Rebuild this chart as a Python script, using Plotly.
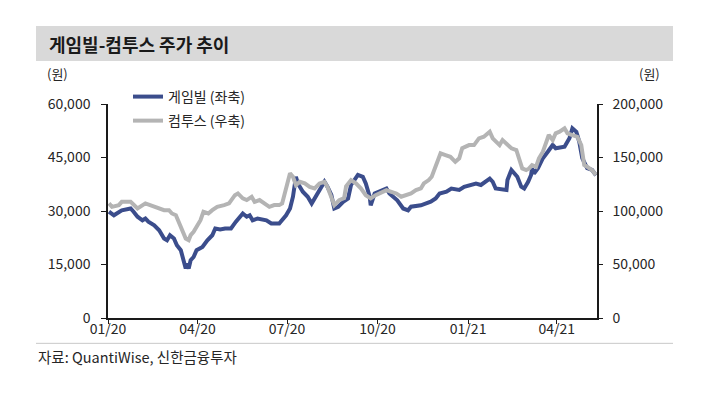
import plotly.graph_objects as go

# ---- data ----
gamevil_dates = [
    "2020-01-02", "2020-01-07", "2020-01-15", "2020-01-24", "2020-01-27", "2020-01-31",
    "2020-02-05", "2020-02-08", "2020-02-11", "2020-02-17", "2020-02-22", "2020-02-27",
    "2020-03-01", "2020-03-04", "2020-03-08", "2020-03-11", "2020-03-15", "2020-03-18",
    "2020-03-20", "2020-03-21", "2020-03-23", "2020-03-25", "2020-03-28", "2020-03-31",
    "2020-04-06", "2020-04-11", "2020-04-16", "2020-04-19", "2020-04-24", "2020-04-29",
    "2020-05-05", "2020-05-10", "2020-05-14", "2020-05-17", "2020-05-21", "2020-05-24",
    "2020-05-27", "2020-06-01", "2020-06-10", "2020-06-15", "2020-06-23", "2020-06-26",
    "2020-06-30", "2020-07-04", "2020-07-07", "2020-07-10", "2020-07-12", "2020-07-17",
    "2020-07-22", "2020-07-26", "2020-07-29", "2020-08-05", "2020-08-08", "2020-08-11",
    "2020-08-15", "2020-08-18", "2020-08-22", "2020-08-27", "2020-09-01", "2020-09-04",
    "2020-09-11", "2020-09-16", "2020-09-19", "2020-09-23", "2020-09-24", "2020-09-28",
    "2020-10-05", "2020-10-10", "2020-10-13", "2020-10-21", "2020-10-27", "2020-11-01",
    "2020-11-04", "2020-11-14", "2020-11-24", "2020-11-29", "2020-12-03", "2020-12-10",
    "2020-12-15", "2020-12-23", "2020-12-28", "2021-01-04", "2021-01-09", "2021-01-14",
    "2021-01-19", "2021-01-23", "2021-01-26", "2021-01-29", "2021-02-09", "2021-02-10",
    "2021-02-14", "2021-02-17", "2021-02-20", "2021-02-24", "2021-02-27", "2021-03-03",
    "2021-03-06", "2021-03-07", "2021-03-09", "2021-03-13", "2021-03-18", "2021-03-23",
    "2021-03-28", "2021-03-31", "2021-04-09", "2021-04-14", "2021-04-17", "2021-04-21",
    "2021-04-24", "2021-04-27", "2021-05-02", "2021-05-07", "2021-05-11",
]
gamevil_prices = [
    29800, 28800, 30200, 30700, 29800, 28400,
    27400, 27900, 27000, 26000, 24600, 22300,
    21800, 23200, 22300, 20400, 19000, 16200,
    13900, 15300, 13900, 16200, 17100, 19000,
    19900, 21800, 23200, 25100, 24800, 25100,
    25100, 27000, 28400, 29300, 28400, 28800,
    27400, 27900, 27400, 26500, 26500, 27400,
    28800, 30700, 34000, 39600, 37700, 35400,
    34000, 32100, 33500, 36800, 38200, 36800,
    34500, 30700, 31200, 32600, 33500, 37300,
    40100, 39600, 37700, 34000, 31600, 34900,
    35900, 36300, 34900, 33000, 30700, 30200,
    31200, 31600, 32600, 33500, 34900, 35400,
    36300, 35900, 36800, 37300, 37700, 37300,
    38200, 39100, 38200, 36300, 35900, 38700,
    41500, 40500, 39600, 36800, 36300, 38200,
    40100, 42000, 40500, 42000, 44800, 46600,
    48500, 47600, 48000, 50400, 53200, 52200,
    49400, 44800, 42000, 41500, 40000,
]

com2us_dates = [
    "2020-01-02", "2020-01-05", "2020-01-12", "2020-01-15", "2020-01-24", "2020-01-27",
    "2020-01-31", "2020-02-08", "2020-02-17", "2020-02-22", "2020-02-27", "2020-03-03",
    "2020-03-06", "2020-03-10", "2020-03-13", "2020-03-16", "2020-03-20", "2020-03-23",
    "2020-03-25", "2020-03-28", "2020-03-31", "2020-04-04", "2020-04-07", "2020-04-12",
    "2020-04-16", "2020-04-21", "2020-04-28", "2020-05-03", "2020-05-09", "2020-05-12",
    "2020-05-17", "2020-05-21", "2020-05-26", "2020-05-29", "2020-06-03", "2020-06-08",
    "2020-06-13", "2020-06-18", "2020-06-23", "2020-06-26", "2020-06-30", "2020-07-04",
    "2020-07-07", "2020-07-10", "2020-07-14", "2020-07-19", "2020-07-24", "2020-07-29",
    "2020-08-03", "2020-08-08", "2020-08-11", "2020-08-15", "2020-08-18", "2020-08-23",
    "2020-08-28", "2020-08-30", "2020-09-04", "2020-09-09", "2020-09-14", "2020-09-19",
    "2020-09-24", "2020-09-29", "2020-10-05", "2020-10-10", "2020-10-15", "2020-10-20",
    "2020-10-25", "2020-10-30", "2020-11-04", "2020-11-09", "2020-11-14", "2020-11-17",
    "2020-11-22", "2020-11-25", "2020-11-30", "2020-12-04", "2020-12-09", "2020-12-14",
    "2020-12-19", "2020-12-23", "2020-12-26", "2020-12-30", "2021-01-02", "2021-01-07",
    "2021-01-12", "2021-01-17", "2021-01-23", "2021-01-26", "2021-02-02", "2021-02-05",
    "2021-02-09", "2021-02-14", "2021-02-19", "2021-02-22", "2021-02-25", "2021-03-01",
    "2021-03-04", "2021-03-07", "2021-03-11", "2021-03-14", "2021-03-18", "2021-03-21",
    "2021-03-24", "2021-03-28", "2021-03-31", "2021-04-04", "2021-04-09", "2021-04-12",
    "2021-04-19", "2021-04-22", "2021-04-26", "2021-04-29", "2021-05-02", "2021-05-07",
    "2021-05-11",
]
com2us_prices = [
    107100, 103900, 105500, 108600, 108600, 105500,
    102400, 107100, 103900, 102400, 100800, 100800,
    97700, 96100, 89900, 82100, 74300, 72700,
    77400, 80500, 85200, 91400, 99200, 97700,
    100800, 103900, 105500, 107100, 114800, 116400,
    111800, 110200, 113300, 108600, 110200, 107100,
    103900, 105500, 105500, 107100, 122600, 135200,
    132000, 124200, 127300, 125800, 122600, 121100,
    125800, 127300, 122600, 113300, 105500, 110200,
    112000, 123000, 128900, 125800, 121100, 114800,
    111800, 114800, 117900, 119500, 117900, 116400,
    113300, 114800, 116400, 119500, 121100, 125800,
    128900, 132000, 144500, 153900, 152300, 150700,
    146000, 149200, 158600, 160100, 161600, 161600,
    167900, 169400, 174100, 167900, 161600, 166300,
    163200, 158600, 157000, 149200, 139800, 138200,
    139800, 142900, 141300, 149200, 155400, 163200,
    171000, 166300, 172600, 174100, 177300, 172600,
    171000, 169400, 161600, 142900, 141300, 138200,
    133600,
]

left_ticks = [0, 15000, 30000, 45000, 60000]
right_ticks = [0, 50000, 100000, 150000, 200000]

title_text = "게임빌-컴투스 주가 추이"
source_text = "자료: QuantiWise, 신한금융투자"
unit_text = "(원)"

FONT = "Noto Sans CJK KR"
BLUE = "#3b4d8c"
GREY = "#b4b4b4"
TXT = "#262626"

fig = go.Figure()
fig.add_trace(go.Scatter(
    x=com2us_dates, y=com2us_prices, mode="lines", name="컴투스 (우축)",
    line=dict(color=GREY, width=4), yaxis="y2", legend="legend2", showlegend=True,
))
fig.add_trace(go.Scatter(
    x=gamevil_dates, y=gamevil_prices, mode="lines", name="게임빌 (좌축)",
    line=dict(color=BLUE, width=4), yaxis="y", legend="legend", showlegend=True,
))

W, H = 721, 399
PAGE_OFF = 8  # default body margin of the html page
# plot area in reference-picture pixels
L, R, T, B = 108, 597, 104, 317.7

def px(xp):
    return (xp - L) / (R - L)

def py(yp):
    return (B - yp) / (B - T)

axis_common = dict(
    showgrid=False, zeroline=False, showline=True, linecolor="#1a1a1a", linewidth=1.5,
    ticks="outside", tickcolor="#1a1a1a", tickwidth=1.2, automargin=False,
    tickfont=dict(family=FONT, size=14, color=TXT),
)

legend_common = dict(
    xanchor="left", yanchor="middle", bgcolor="rgba(0,0,0,0)",
    font=dict(family=FONT, size=14, color=TXT),
)

fig.update_layout(
    width=W, height=H,
    margin=dict(l=L - PAGE_OFF, r=W - (R - PAGE_OFF), t=T - PAGE_OFF,
                b=H - (B - PAGE_OFF), autoexpand=False),
    paper_bgcolor="white", plot_bgcolor="white",
    font=dict(family=FONT, size=14, color=TXT),
    showlegend=True,
    xaxis=dict(
        **axis_common, type="date", range=["2020-01-01", "2021-05-12"],
        tick0="2020-01-01", dtick="M3", tickformat="%m/%y", ticklen=4,
        ticklabelstandoff=-7,
    ),
    yaxis=dict(
        **axis_common, range=[0, 60000], tickvals=left_ticks,
        tickformat=",d", ticklen=5, ticklabelstandoff=8,
    ),
    yaxis2=dict(
        **axis_common, range=[0, 200000], tickvals=right_ticks, tickformat=",d",
        overlaying="y", side="right", ticklen=4, ticklabelstandoff=7,
    ),
    legend=dict(**legend_common, x=px(128), y=py(97)),
    legend2=dict(**legend_common, x=px(128), y=py(121)),
    shapes=[
        dict(type="rect", xref="paper", yref="paper", layer="below",
             x0=px(36), x1=px(673), y0=py(61), y1=py(26),
             fillcolor="#d9d9d9", line=dict(width=0)),
        dict(type="line", xref="paper", yref="paper",
             x0=px(36), x1=px(673), y0=py(343), y1=py(343),
             line=dict(color="#c8c8c8", width=1)),
    ],
    annotations=[
        dict(text=f"<b>{title_text}</b>", xref="paper", yref="paper",
             x=px(47), y=py(44), xanchor="left", yanchor="middle", showarrow=False,
             font=dict(family=FONT, size=18, color="#1a1a1a")),
        dict(text=unit_text, xref="paper", yref="paper",
             x=px(45), y=py(74), xanchor="left", yanchor="middle", showarrow=False,
             font=dict(family=FONT, size=13, color=TXT)),
        dict(text=unit_text, xref="paper", yref="paper",
             x=px(662), y=py(74), xanchor="right", yanchor="middle", showarrow=False,
             font=dict(family=FONT, size=13, color=TXT)),
        dict(text=source_text, xref="paper", yref="paper",
             x=px(36), y=py(356), xanchor="left", yanchor="middle", showarrow=False,
             font=dict(family=FONT, size=14.5, color=TXT)),
    ],
)

fig.write_html("out.html")
